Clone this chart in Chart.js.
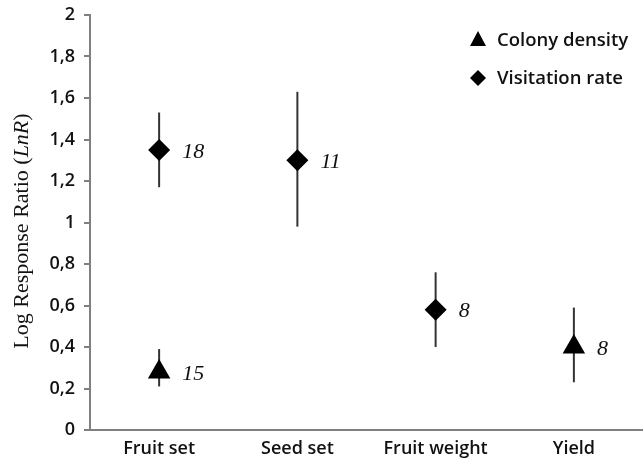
<!DOCTYPE html>
<html lang="en">
<head>
  <meta charset="UTF-8">
  <title>Log Response Ratio</title>
  <script src="https://cdn.jsdelivr.net/npm/chart.js"></script>
  <style>
    * { margin: 0; padding: 0; box-sizing: border-box; }
    body { background: #fff; width: 643px; height: 463px; overflow: hidden; }
    .chart-container { position: relative; width: 643px; height: 463px; }
  </style>
</head>
<body>
  <div class="chart-container">
    <canvas id="lnrChart"></canvas>
  </div>

  <script>
    // categories and y ticks
    const categories = ["Fruit set", "Seed set", "Fruit weight", "Yield"];
    const yTicks = [0, 0.2, 0.4, 0.6, 0.8, 1, 1.2, 1.4, 1.6, 1.8, 2];

    // Colony density (triangles)
    const colonyMean = [0.28, null, null, 0.40];
    const colonyLow = [0.21, null, null, 0.23];
    const colonyHigh = [0.39, null, null, 0.59];
    const colonyN = [15, null, null, 8];

    // Visitation rate (diamonds)
    const visitMean = [1.35, 1.30, 0.58, null];
    const visitLow = [1.17, 0.98, 0.40, null];
    const visitHigh = [1.53, 1.63, 0.76, null];
    const visitN = [18, 11, 8, null];

    const sans = "'Open Sans', sans-serif";
    const serif = "'Liberation Serif', 'Times New Roman', serif";

    // error bars + n labels
    const errorBars = {
      id: 'errorBars',
      beforeDatasetsDraw(chart) {
        const { ctx, scales: { x, y } } = chart;
        const sets = [[colonyLow, colonyHigh], [visitLow, visitHigh]];
        ctx.save();
        ctx.strokeStyle = '#333';
        ctx.lineWidth = 2;
        sets.forEach(([lo, hi]) => {
          lo.forEach((v, i) => {
            if (v === null) return;
            const px = x.getPixelForValue(i);
            ctx.beginPath();
            ctx.moveTo(px, y.getPixelForValue(v));
            ctx.lineTo(px, y.getPixelForValue(hi[i]));
            ctx.stroke();
          });
        });
        ctx.restore();
      },
      afterDatasetsDraw(chart) {
        const { ctx, scales: { x, y } } = chart;
        ctx.save();
        ctx.fillStyle = '#111';
        ctx.font = "italic 22px " + serif;
        ctx.textAlign = 'left';
        ctx.textBaseline = 'middle';
        [[colonyMean, colonyN], [visitMean, visitN]].forEach(([m, n]) => {
          m.forEach((v, i) => {
            if (v === null) return;
            ctx.fillText(String(n[i]), x.getPixelForValue(i) + 23, y.getPixelForValue(v) + 2);
          });
        });
        ctx.restore();
      }
    };

    // legend in the top right + y axis title with italic LnR
    const extras = {
      id: 'extras',
      afterDraw(chart) {
        const { ctx } = chart;
        ctx.save();
        ctx.fillStyle = '#000';
        // legend markers
        ctx.beginPath();
        ctx.moveTo(478, 31);
        ctx.lineTo(486, 46);
        ctx.lineTo(470, 46);
        ctx.closePath();
        ctx.fill();
        ctx.beginPath();
        ctx.moveTo(478, 70);
        ctx.lineTo(486, 78);
        ctx.lineTo(478, 86);
        ctx.lineTo(470, 78);
        ctx.closePath();
        ctx.fill();
        ctx.fillStyle = '#111';
        ctx.font = "600 18.5px " + sans;
        ctx.textBaseline = 'middle';
        ctx.fillText("Colony density", 497, 41);
        ctx.fillText("Visitation rate", 497, 79);

        // axis title
        ctx.translate(22, 231);
        ctx.rotate(-Math.PI / 2);
        const parts = [["Log Response Ratio (", "22px " + serif], ["LnR", "italic 22px " + serif], [")", "22px " + serif]];
        let total = 0;
        parts.forEach(p => { ctx.font = p[1]; total += ctx.measureText(p[0]).width; });
        let cx = -total / 2;
        ctx.textAlign = 'left';
        parts.forEach(p => {
          ctx.font = p[1];
          ctx.fillText(p[0], cx, 0);
          cx += ctx.measureText(p[0]).width;
        });
        ctx.restore();
      }
    };

    const ctx = document.getElementById('lnrChart').getContext('2d');
    new Chart(ctx, {
      type: 'line',
      data: {
        labels: categories,
        datasets: [
          {
            label: 'Colony density',
            data: colonyMean,
            showLine: false,
            pointStyle: 'triangle',
            pointRadius: 13,
            pointBackgroundColor: '#000',
            pointBorderColor: '#000',
            pointBorderWidth: 0
          },
          {
            label: 'Visitation rate',
            data: visitMean,
            showLine: false,
            pointStyle: 'rectRot',
            pointRadius: 11,
            pointBackgroundColor: '#000',
            pointBorderColor: '#000',
            pointBorderWidth: 0
          }
        ]
      },
      options: {
        responsive: true,
        maintainAspectRatio: false,
        animation: false,
        layout: { autoPadding: false, padding: { top: 0, right: 0, bottom: 0, left: 0 } },
        plugins: {
          legend: { display: false },
          tooltip: { enabled: false }
        },
        scales: {
          x: {
            offset: true,
            grid: { display: false, drawTicks: false },
            border: { color: '#808080', width: 2 },
            ticks: { color: '#111', font: { family: sans, size: 18, weight: 600 }, padding: 8 },
            afterFit(scale) {
              scale.height = 33;
              scale.paddingLeft = 0;
              scale.paddingRight = 0;
            }
          },
          y: {
            min: 0,
            max: 2,
            afterBuildTicks(scale) { scale.ticks = yTicks.map(v => ({ value: v })); },
            grid: { drawOnChartArea: false, drawTicks: true, tickLength: 6, color: '#808080', lineWidth: 2 },
            border: { color: '#808080', width: 2 },
            ticks: {
              color: '#111',
              font: { family: sans, size: 18, weight: 600 },
              padding: 9,
              callback: v => String(v).replace('.', ',')
            },
            afterFit(scale) {
              scale.width = 90;
              scale.paddingTop = 15;
              scale.paddingBottom = 0;
            }
          }
        }
      },
      plugins: [errorBars, extras]
    });
  </script>
</body>
</html>
